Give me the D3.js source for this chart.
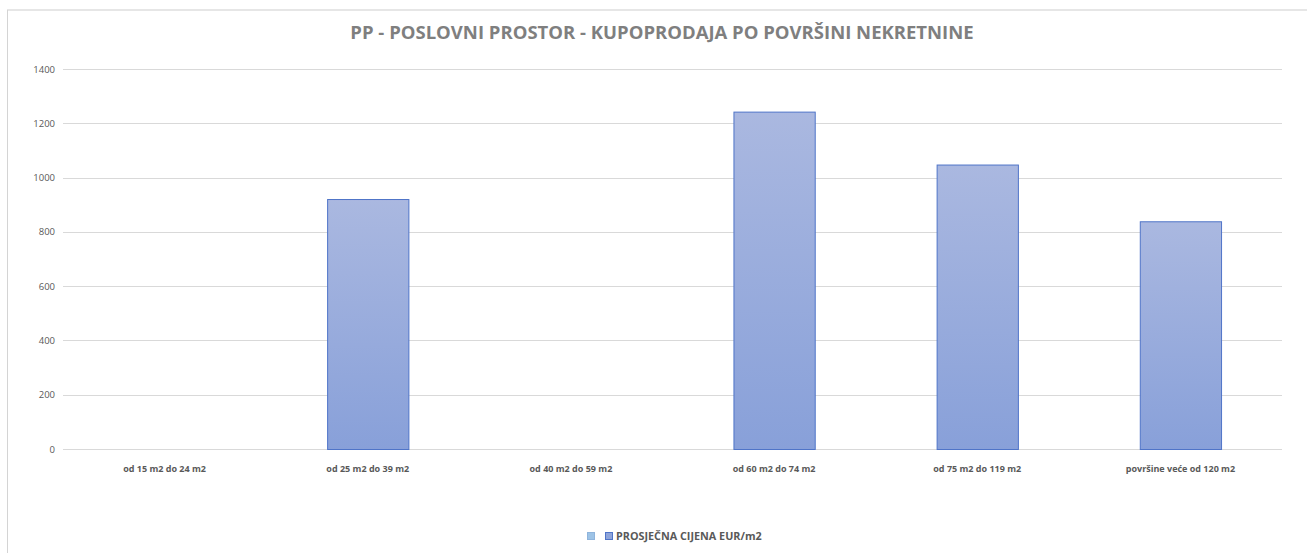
<!DOCTYPE html>
<html>
<head>
<meta charset="utf-8">
<script src="https://cdn.jsdelivr.net/npm/d3@7"></script>
<style>
  body { margin: 0; background: #fff; }
  svg { display: block; }
</style>
</head>
<body>
<svg id="chart" width="1307" height="553"></svg>
<script>
// data
var categories = ["od 15 m2 do 24 m2", "od 25 m2 do 39 m2", "od 40 m2 do 59 m2",
                  "od 60 m2 do 74 m2", "od 75 m2 do 119 m2", "površine veće od 120 m2"];
var prices = [null, 921, null, 1243, 1048, 839];
var yTicks = [0, 200, 400, 600, 800, 1000, 1200, 1400];
var seriesName = "PROSJEČNA CIJENA EUR/m2";
var chartTitle = "PP - POSLOVNI PROSTOR - KUPOPRODAJA PO POVRŠINI NEKRETNINE";

var svg = d3.select("#chart");
var font = "Open Sans, Noto Sans, sans-serif";

// outer chart frame (top and left edges visible)
svg.append("line")
    .attr("x1", 7).attr("x2", 1307).attr("y1", 10).attr("y2", 10)
    .attr("stroke", "#e6e6e6").attr("stroke-width", 2);
svg.append("line")
    .attr("x1", 7.5).attr("x2", 7.5).attr("y1", 10).attr("y2", 553)
    .attr("stroke", "#d4d4d4").attr("stroke-width", 1);

var defs = svg.append("defs");
var grad = defs.append("linearGradient")
    .attr("id", "barGrad")
    .attr("x1", 0).attr("y1", 0).attr("x2", 0).attr("y2", 1);
grad.append("stop").attr("offset", "0%").attr("stop-color", "#aab8e0");
grad.append("stop").attr("offset", "100%").attr("stop-color", "#88a0d9");

var plotLeft = 63, plotRight = 1282, plotTop = 69, plotBottom = 449;

var x = d3.scaleBand()
    .domain(categories)
    .range([plotLeft, plotRight])
    .paddingInner(0.6)
    .paddingOuter(0.3);

var y = d3.scaleLinear()
    .domain([0, 1400])
    .range([plotBottom, plotTop]);

// gridlines
svg.append("g")
    .selectAll("line")
    .data(yTicks)
    .join("line")
    .attr("x1", plotLeft).attr("x2", plotRight)
    .attr("y1", d => Math.round(y(d)) + 0.5)
    .attr("y2", d => Math.round(y(d)) + 0.5)
    .attr("stroke", "#d9d9d9")
    .attr("stroke-width", 1);

// y axis labels
var yAxis = svg.append("g")
    .attr("transform", "translate(" + (plotLeft - 8) + ",0)")
    .call(d3.axisLeft(y).tickValues(yTicks).tickFormat(d3.format("d")).tickSize(0).tickPadding(0));
yAxis.select(".domain").remove();
yAxis.selectAll("text")
    .attr("fill", "#595959")
    .attr("font-family", font)
    .attr("font-size", "9.5px");

// bars
svg.append("g")
    .selectAll("rect")
    .data(categories.map((c, i) => ({ cat: c, v: prices[i] })).filter(d => d.v != null))
    .join("rect")
    .attr("x", d => x(d.cat) + 0.5)
    .attr("y", d => y(d.v) + 0.5)
    .attr("width", x.bandwidth())
    .attr("height", d => y(0) - y(d.v))
    .attr("fill", "url(#barGrad)")
    .attr("stroke", "#4f74c8")
    .attr("stroke-width", 1);

// x axis labels
var xAxis = svg.append("g")
    .attr("transform", "translate(0," + (plotBottom + 17) + ")")
    .call(d3.axisBottom(x).tickSize(0).tickPadding(0));
xAxis.select(".domain").remove();
xAxis.selectAll("text")
    .attr("fill", "#595959")
    .attr("font-family", font)
    .attr("font-weight", "bold")
    .attr("font-size", "9px");

// title
svg.append("text")
    .attr("x", 662).attr("y", 39)
    .attr("text-anchor", "middle")
    .attr("fill", "#7f7f7f")
    .attr("font-family", font)
    .attr("font-weight", "bold")
    .attr("font-size", "18.5px")
    .text(chartTitle);

// legend
var lg = svg.append("g").attr("transform", "translate(587,532)");
lg.append("rect").attr("x", 0.5).attr("y", 0.5).attr("width", 7).attr("height", 7)
    .attr("fill", "#9dc3e6").attr("stroke", "#8fb4dc");
lg.append("rect").attr("x", 18.5).attr("y", 0.5).attr("width", 7).attr("height", 7)
    .attr("fill", "#8ea4da").attr("stroke", "#4f74c8");
lg.append("text")
    .attr("x", 29).attr("y", 8)
    .attr("fill", "#595959")
    .attr("font-family", font)
    .attr("font-weight", "bold")
    .attr("font-size", "10.8px")
    .text(seriesName);
</script>
</body>
</html>
